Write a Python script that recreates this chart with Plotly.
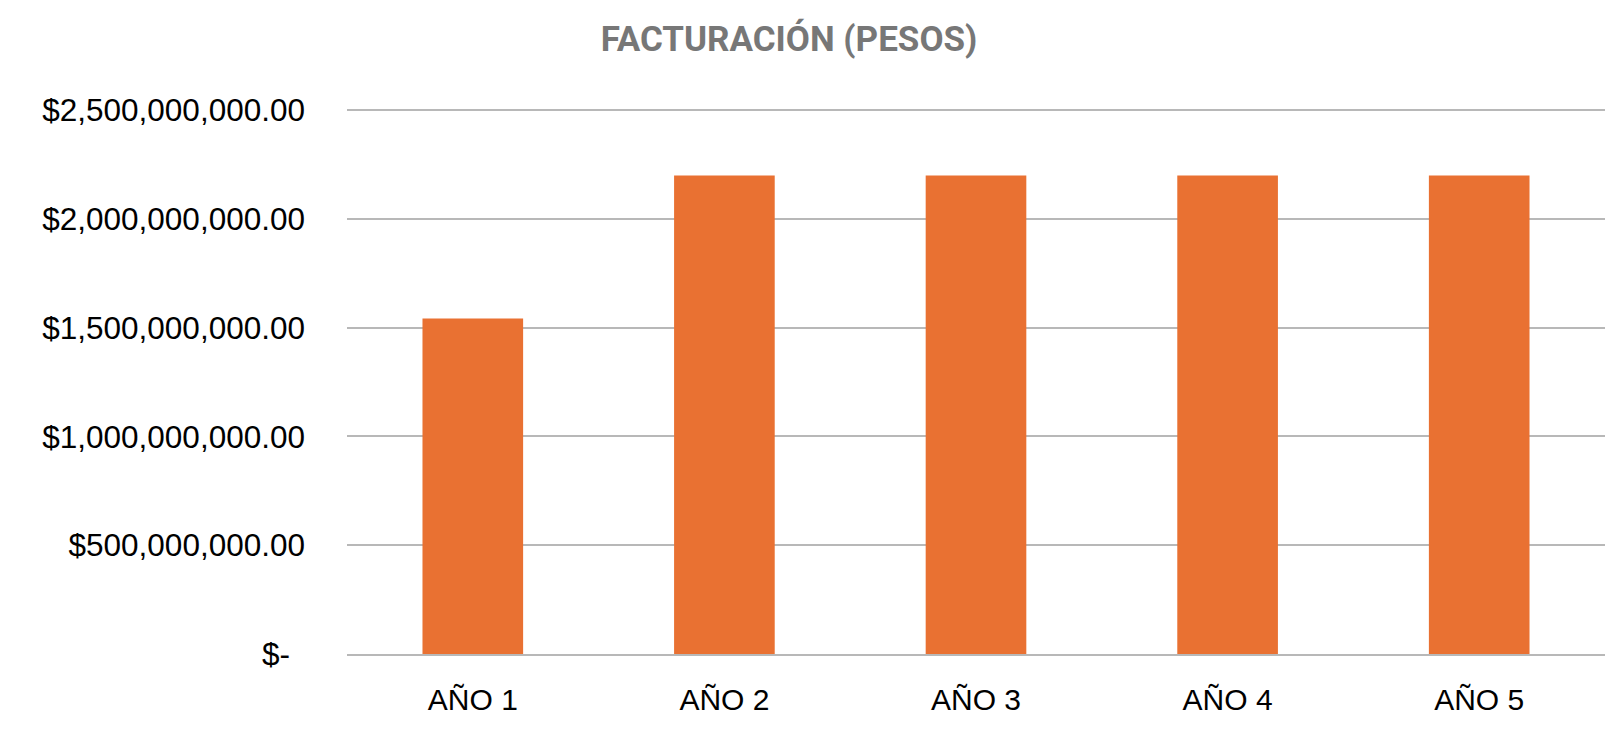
import plotly.graph_objects as go

# datos del grafico
years = ["AÑO 1", "AÑO 2", "AÑO 3", "AÑO 4", "AÑO 5"]
billing = [1542000000, 2200000000, 2200000000, 2200000000, 2200000000]
tick_vals = [0, 500000000, 1000000000, 1500000000, 2000000000, 2500000000]
tick_text = ["$-\u00a0\u2009", "$500,000,000.00", "$1,000,000,000.00",
             "$1,500,000,000.00", "$2,000,000,000.00", "$2,500,000,000.00"]

fig = go.Figure()
fig.add_trace(go.Bar(x=years, y=billing, marker_color="#E97132", marker_line_width=0))

fig.update_layout(
    width=1621,
    height=754,
    paper_bgcolor="white",
    plot_bgcolor="white",
    showlegend=False,
    bargap=0.6,
    margin=dict(l=347, r=16, t=108, b=100),
    title=dict(
        text="<b>FACTURACIÓN (PESOS)</b>",
        x=789 / 1621, xref="container", xanchor="center",
        y=1 - 39 / 754, yref="container", yanchor="middle",
        font=dict(family="Roboto", size=35, color="#777777"),
    ),
    font=dict(family="Liberation Sans, Arial", size=30, color="#000000"),
)

fig.update_yaxes(
    range=[0, 2510000000],
    tickvals=tick_vals,
    ticktext=tick_text,
    showgrid=True,
    gridcolor="#B8B8B8",
    gridwidth=2,
    zeroline=False,
    showline=False,
    ticklabelstandoff=41,
    tickfont=dict(size=31.5, color="#000000"),
)
fig.update_xaxes(
    showline=True,
    linecolor="#B8B8B8",
    linewidth=2,
    showgrid=False,
    ticklabelstandoff=18,
    tickfont=dict(size=30, color="#000000"),
)

fig.write_html("out.html", config={"displayModeBar": False},
               post_script="document.body.style.margin='0px';")
